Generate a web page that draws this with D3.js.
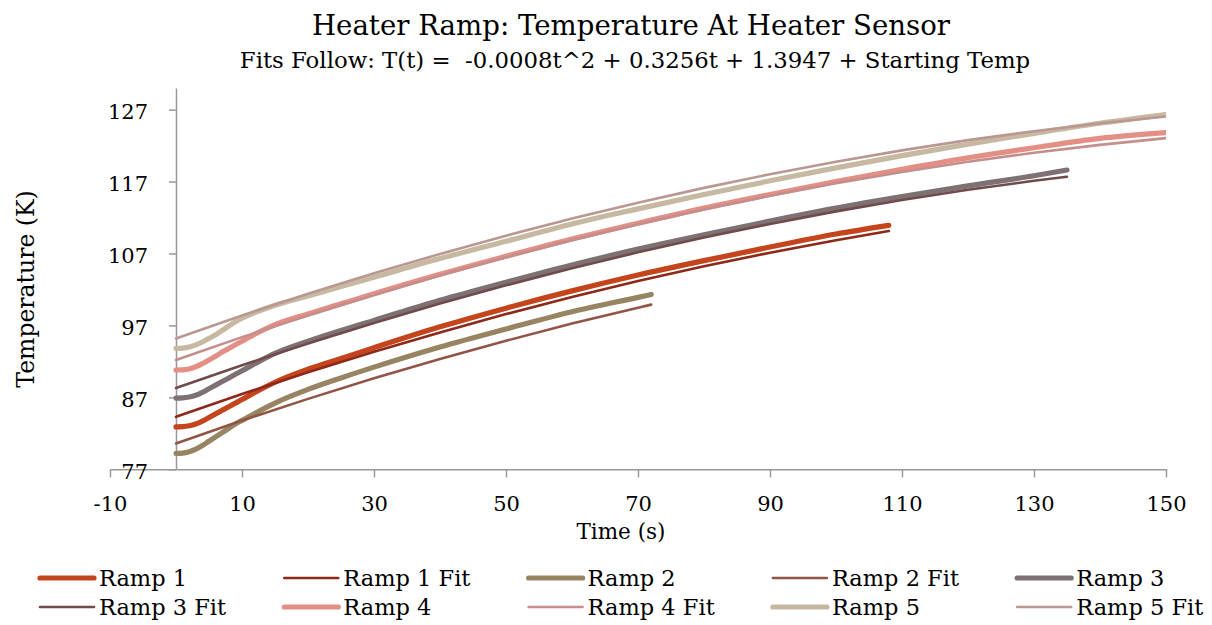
<!DOCTYPE html>
<html>
<head>
<meta charset="utf-8">
<script src="https://cdn.jsdelivr.net/npm/d3@7"></script>
<style>
  html, body { margin: 0; padding: 0; background: #fff; }
  svg { display: block; }
  text { font-family: "DejaVu Serif", "Liberation Serif", serif; fill: #000; white-space: pre; }
</style>
</head>
<body>
<svg id="chart" width="1212" height="625"></svg>
<script>
// ---- Data ----
const title = "Heater Ramp: Temperature At Heater Sensor";
const subtitle = "Fits Follow: T(t) =  -0.0008t^2 + 0.3256t + 1.3947 + Starting Temp";
const xTickValues = [-10, 10, 30, 50, 70, 90, 110, 130, 150];
const yTickValues = [77, 87, 97, 107, 117, 127];

// each ramp ends at its own last time
const ramp1Times = [0,1,2,3,4,5,6,7,8,9,10,12,15,20,25,30,40,50,60,70,80,90,100,108];
const ramp1 = [82.9,82.93,83.05,83.3,83.7,84.2,84.7,85.2,85.7,86.2,86.7,87.7,89.1,90.9,92.4,93.9,96.8,99.4,101.8,104.0,106.0,107.9,109.7,110.9];
const ramp1FitTimes = [0,10,20,30,40,50,60,70,80,90,100,108];
const ramp1Fit = [84.29,87.47,90.49,93.34,96.03,98.57,100.95,103.16,105.22,107.11,108.85,110.12];

const ramp2Times = [0,1,2,3,4,5,6,7,8,9,10,12,15,20,25,30,40,50,60,70,72];
const ramp2 = [79.2,79.25,79.45,79.8,80.3,80.9,81.5,82.1,82.7,83.3,83.8,84.8,86.2,88.1,89.7,91.2,94.0,96.5,98.9,100.9,101.3];
const ramp2FitTimes = [0,10,20,30,40,50,60,70,72];
const ramp2Fit = [80.59,83.77,86.79,89.64,92.33,94.87,97.25,99.46,99.89];

const ramp3Times = [0,1,2,3,4,5,6,7,8,9,10,12,15,20,25,30,40,50,60,70,80,90,100,110,120,130,135];
const ramp3 = [86.9,86.93,87.05,87.3,87.7,88.2,88.7,89.2,89.7,90.2,90.7,91.7,93.1,94.8,96.3,97.7,100.5,103.0,105.4,107.6,109.6,111.5,113.3,114.9,116.4,117.8,118.6];
const ramp3FitTimes = [0,10,20,30,40,50,60,70,80,90,100,110,120,130,135];
const ramp3Fit = [88.29,91.47,94.49,97.34,100.03,102.57,104.95,107.16,109.22,111.11,112.85,114.43,115.85,117.10,117.67];

const ramp4Times = [0,1,2,3,4,5,6,7,8,9,10,12,15,20,25,30,40,50,60,70,80,90,100,110,120,130,140,150];
const ramp4 = [90.8,90.83,90.95,91.25,91.7,92.2,92.7,93.3,93.8,94.3,94.8,95.8,97.1,98.6,100.0,101.4,104.1,106.6,109.0,111.2,113.3,115.2,117.0,118.7,120.3,121.7,123.0,123.8];
const ramp4FitTimes = [0,10,20,30,40,50,60,70,80,90,100,110,120,130,140,150];
const ramp4Fit = [92.19,95.37,98.39,101.24,103.93,106.47,108.85,111.06,113.12,115.01,116.75,118.33,119.75,121.00,122.10,123.03];

const ramp5Times = [0,1,2,3,4,5,6,7,8,9,10,12,15,20,25,30,40,50,60,70,80,90,100,110,120,130,140,150];
const ramp5 = [93.8,93.85,94.0,94.3,94.7,95.2,95.7,96.3,96.9,97.5,98.0,98.8,99.8,101.1,102.4,103.7,106.3,108.7,111.1,113.2,115.2,117.1,118.9,120.6,122.2,123.7,125.1,126.3];
const ramp5FitTimes = [0,10,20,30,40,50,60,70,80,90,100,110,120,130,140,150];
const ramp5Fit = [95.19,98.37,101.39,104.24,106.93,109.47,111.85,114.06,116.12,118.01,119.75,121.33,122.75,124.00,125.10,126.03];

const seriesNames = ["Ramp 1","Ramp 1 Fit","Ramp 2","Ramp 2 Fit","Ramp 3","Ramp 3 Fit","Ramp 4","Ramp 4 Fit","Ramp 5","Ramp 5 Fit"];
const seriesColors = ["#C4441B","#8E2818","#968462","#925545","#7E7173","#714A4C","#E38F86","#C38E8C","#C7B8A1","#BB9791"];

// ---- Build series ----
const seriesTimes = [ramp1Times, ramp1FitTimes, ramp2Times, ramp2FitTimes, ramp3Times, ramp3FitTimes, ramp4Times, ramp4FitTimes, ramp5Times, ramp5FitTimes];
const seriesValues = [ramp1, ramp1Fit, ramp2, ramp2Fit, ramp3, ramp3Fit, ramp4, ramp4Fit, ramp5, ramp5Fit];
const series = seriesNames.map((name, i) => ({
  name,
  color: seriesColors[i],
  isFit: name.endsWith("Fit"),
  points: seriesTimes[i].map((t, j) => ({ t, v: seriesValues[i][j] }))
}));

const FONT = "DejaVu Serif, Liberation Serif, serif";
const svg = d3.select("#chart");
const x = d3.scaleLinear().domain([-10, 150]).range([110, 1166]);
const y = d3.scaleLinear().domain([77, 130]).range([469.3, 88]);

// clip
svg.append("defs").append("clipPath").attr("id", "plotclip")
  .append("rect").attr("x", x(-10)).attr("y", y(130) - 10)
  .attr("width", x(150) - x(-10)).attr("height", y(77) - y(130) + 10);

// Titles
svg.append("text").attr("x", 631).attr("y", 35).attr("text-anchor", "middle")
  .style("font-size", "27.6px").text(title);
svg.append("text").attr("x", 635).attr("y", 68).attr("text-anchor", "middle")
  .style("font-size", "22.8px").text(subtitle);

// X axis
const xAxis = d3.axisBottom(x).tickValues(xTickValues).tickFormat(d => String(d))
  .tickSize(8).tickSizeOuter(0).tickPadding(19);
const gx = svg.append("g").attr("transform", `translate(0,${y(77)})`).call(xAxis);
gx.select(".domain").attr("stroke", "#999").attr("stroke-width", 1.5);
gx.selectAll(".tick line").attr("stroke", "#999").attr("stroke-width", 1.5);
gx.selectAll(".tick text").style("font-size", "21px").style("font-family", FONT).attr("fill", "#000");

// Y axis (crosses at x = 0)
const yAxis = d3.axisLeft(y).tickValues(yTickValues).tickFormat(d => String(d))
  .tickSize(7).tickSizeOuter(0).tickPadding(21);
const gy = svg.append("g").attr("transform", `translate(${x(0)},0)`).call(yAxis);
gy.select(".domain").attr("stroke", "#999").attr("stroke-width", 1.5);
gy.selectAll(".tick line").attr("stroke", "#999").attr("stroke-width", 1.5);
gy.selectAll(".tick text").style("font-size", "21px").style("font-family", FONT).attr("fill", "#000").attr("dy", "0.42em");

// Axis titles
svg.append("text").attr("x", 621).attr("y", 539).attr("text-anchor", "middle")
  .style("font-size", "21.5px").text("Time (s)");
svg.append("text").attr("transform", "translate(34,289) rotate(-90)").attr("text-anchor", "middle")
  .style("font-size", "23.5px").text("Temperature (K)");

// Lines
const line = d3.line().x(d => x(d.t)).y(d => y(d.v)).curve(d3.curveMonotoneX);
const plot = svg.append("g").attr("clip-path", "url(#plotclip)");
series.forEach(s => {
  plot.append("path").datum(s.points)
    .attr("fill", "none")
    .attr("stroke", s.color)
    .attr("stroke-width", s.isFit ? 2.6 : 5.2)
    .attr("stroke-linecap", "round")
    .attr("stroke-linejoin", "round")
    .attr("d", line);
});

// Legend
const legendCols = 5;
const legend = svg.append("g");
series.forEach((s, i) => {
  const col = i % legendCols, row = Math.floor(i / legendCols);
  const lx = 40 + col * 244.3, ly = 578 + row * 29;
  legend.append("line").attr("x1", lx).attr("x2", lx + 54).attr("y1", ly).attr("y2", ly)
    .attr("stroke", s.color).attr("stroke-width", s.isFit ? 2.6 : 5.2).attr("stroke-linecap", "round");
  legend.append("text").attr("x", lx + 59).attr("y", ly + 8).style("font-size", "22.5px").text(s.name);
});
</script>
</body>
</html>
